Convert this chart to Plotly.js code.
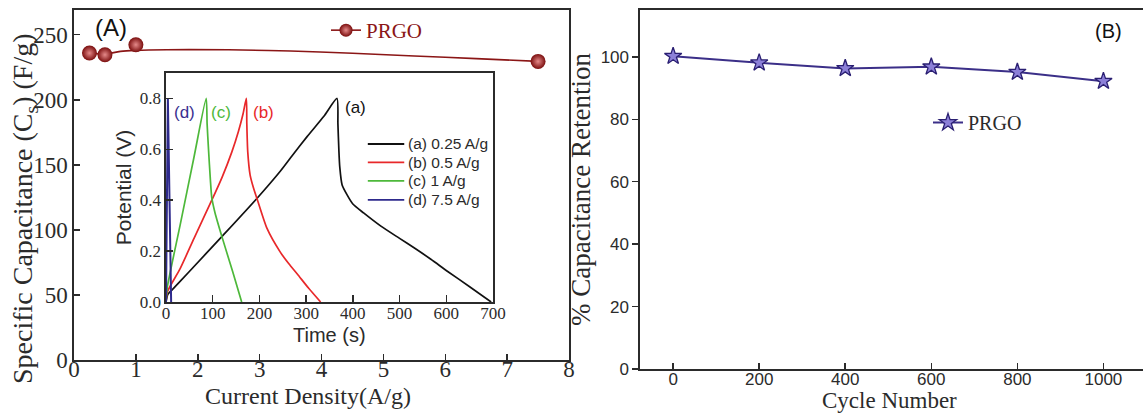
<!DOCTYPE html>
<html>
<head>
<meta charset="utf-8">
<script src="https://cdn.plot.ly/plotly-3.0.1.min.js"></script>
<style>
  html, body { margin: 0; padding: 0; background: #fff; }
  #chart { width: 1143px; height: 415px; }
</style>
</head>
<body>
<div id="chart"></div>
<script>
// ---- Panel A: specific capacitance vs current density ----
const densityAg = [0.25, 0.5, 1, 7.5];
const capacitanceFg = [235.9, 234.6, 242.3, 229.5];
// smooth trend line through the capacitance data
const trendX = [0.25, 0.5, 0.75, 1, 1.5, 2.5, 3.5, 4.5, 5.5, 6.5, 7.5];
const trendY = [235.9, 235.2, 237.2, 238.0, 238.5, 238.4, 237.5, 235.8, 233.7, 231.6, 229.5];

// ---- Inset: galvanostatic charge/discharge curves ----
const tA = [0, 4, 12, 50, 119.5, 195, 245, 270, 302, 338, 366,
            368, 370, 372, 377, 388, 400, 423, 460, 500, 531, 567, 603, 650, 696];
const vA = [0, 0.03, 0.046, 0.12, 0.257, 0.408, 0.515, 0.575, 0.65, 0.73, 0.8,
            0.7, 0.6, 0.53, 0.46, 0.42, 0.385, 0.35, 0.298, 0.25, 0.213, 0.168, 0.12, 0.06, 0];
const tB = [0, 3, 30, 60, 98, 120, 141, 155, 165, 172,
            173, 175, 180, 187, 195, 216, 245, 263, 281, 305, 331];
const vB = [0, 0.04, 0.13, 0.25, 0.40, 0.49, 0.59, 0.67, 0.74, 0.8,
            0.7, 0.59, 0.50, 0.45, 0.405, 0.29, 0.195, 0.15, 0.11, 0.055, 0];
const tC = [0, 3, 30, 60, 86, 88, 91, 95, 98, 105, 120, 143, 162];
const vC = [0, 0.06, 0.3, 0.57, 0.8, 0.7, 0.6, 0.48, 0.41, 0.35, 0.255, 0.118, 0];
const tD = [0, 4, 11];
const vD = [0, 0.8, 0];
const curveNames = ['(a) 0.25 A/g', '(b) 0.5 A/g', '(c) 1 A/g', '(d) 7.5 A/g'];
const curveColors = ['#111111', '#e8282a', '#4db83a', '#2e2a8c'];

// ---- Panel B: cycling stability ----
const cycles = [0, 200, 400, 600, 800, 1000];
const retention = [100.2, 98.1, 96.3, 96.8, 95.1, 92.2];

const W = 1143, H = 415;
const px = v => v / W;            // pixel -> paper x
const py = v => 1 - v / H;        // pixel (from top) -> paper y

const SERIF = 'Liberation Serif, Times New Roman, serif';
const SANS = 'Liberation Sans, Arial, sans-serif';
const INK = '#2b2b2b';
const RED = '#8b1616';
const PURPLE = '#3b2f88';

const gcdLine = color => ({ color: color, width: 1.7, shape: 'spline', smoothing: 0.6 });

const traces = [
  { x: trendX, y: trendY, xaxis: 'x', yaxis: 'y', mode: 'lines', line: { color: RED, width: 1.6, shape: 'spline' },
    showlegend: false, hoverinfo: 'skip' },
  { x: densityAg, y: capacitanceFg, xaxis: 'x', yaxis: 'y', mode: 'markers', showlegend: false,
    marker: { size: 15, color: '#7a0d0d', gradient: { type: 'radial', color: '#e58a8a' }, line: { width: 0 } } },
  { x: [null], y: [null], xaxis: 'x', yaxis: 'y', mode: 'lines+markers', name: 'PRGO', legend: 'legend',
    line: { color: RED, width: 1.6 },
    marker: { size: 13, color: '#7a0d0d', gradient: { type: 'radial', color: '#e58a8a' }, line: { width: 0 } } },

  { x: tA, y: vA, xaxis: 'x2', yaxis: 'y2', mode: 'lines', name: curveNames[0], showlegend: false,
    line: gcdLine(curveColors[0]) },
  { x: tB, y: vB, xaxis: 'x2', yaxis: 'y2', mode: 'lines', name: curveNames[1], showlegend: false,
    line: gcdLine(curveColors[1]) },
  { x: tC, y: vC, xaxis: 'x2', yaxis: 'y2', mode: 'lines', name: curveNames[2], showlegend: false,
    line: gcdLine(curveColors[2]) },
  { x: tD, y: vD, xaxis: 'x2', yaxis: 'y2', mode: 'lines', name: curveNames[3], showlegend: false,
    line: { color: curveColors[3], width: 2 } },

  { x: cycles, y: retention, xaxis: 'x3', yaxis: 'y3', mode: 'lines+markers', name: 'PRGO', legend: 'legend3',
    line: { color: PURPLE, width: 2 },
    marker: { symbol: 'star', size: 13, color: '#8c80d8', line: { color: '#2a1f72', width: 1.3 } } }
];

// compact key for the inset curves (rows placed in inset data units)
const keyRowsV = [0.621, 0.549, 0.476, 0.401];
const keyShapes = curveNames.map((n, i) => ({
  type: 'line', xref: 'x2', yref: 'y2', x0: 432, x1: 510, y0: keyRowsV[i], y1: keyRowsV[i],
  line: { color: curveColors[i], width: 1.8 }
}));
const keyLabels = curveNames.map((n, i) => ({
  text: n, xref: 'x2', yref: 'y2', x: 513, y: keyRowsV[i], xanchor: 'left', yanchor: 'middle',
  showarrow: false, font: { family: SANS, size: 15.5, color: INK }
}));

const axisBase = {
  showline: true, linecolor: INK, linewidth: 1.6, showgrid: false, zeroline: false,
  ticks: 'inside', tickcolor: INK, tickwidth: 1.5, ticklen: 6
};

const layout = {
  width: W, height: H,
  margin: { l: 0, r: 0, t: 0, b: 0 },
  paper_bgcolor: '#ffffff', plot_bgcolor: '#ffffff',
  font: { family: SERIF, color: INK },
  showlegend: true,
  xaxis: Object.assign({}, axisBase, {
    domain: [px(74), px(569)], anchor: 'y', range: [0, 8], dtick: 1, mirror: true,
    tickfont: { family: SERIF, size: 23, color: INK }, ticklabelstandoff: -12
  }),
  yaxis: Object.assign({}, axisBase, {
    domain: [py(360), py(10)], anchor: 'x', range: [0, 269], tickvals: [0, 50, 100, 150, 200, 250], mirror: true,
    tickfont: { family: SERIF, size: 23, color: INK }
  }),
  xaxis2: Object.assign({}, axisBase, {
    domain: [px(166), px(493)], anchor: 'y2', range: [0, 700], dtick: 100, mirror: true, ticklen: 7,
    tickfont: { family: SERIF, size: 17, color: INK }, ticklabelstandoff: -5
  }),
  yaxis2: Object.assign({}, axisBase, {
    domain: [py(302), py(73)], anchor: 'x2', range: [0, 0.9], tickvals: [0, 0.2, 0.4, 0.6, 0.8],
    tickformat: '.1f', mirror: true, ticklen: 7,
    tickfont: { family: SERIF, size: 17, color: INK },
    title: { text: 'Potential (V)', font: { family: SANS, size: 21, color: INK }, standoff: 2 }
  }),
  xaxis3: Object.assign({}, axisBase, {
    domain: [px(640), 1], anchor: 'y3', range: [-77, 1092], tickvals: [0, 200, 400, 600, 800, 1000], mirror: true,
    tickfont: { family: SANS, size: 17, color: INK }, ticklabelstandoff: -6
  }),
  yaxis3: Object.assign({}, axisBase, {
    domain: [py(369), py(10)], anchor: 'x3', range: [0, 115], tickvals: [0, 20, 40, 60, 80, 100],
    ticks: 'outside',
    tickfont: { family: SANS, size: 17, color: INK },
    title: { text: '% Capacitance Retention', font: { family: SERIF, size: 27, color: INK }, standoff: 2 }
  }),
  legend: {
    x: px(326), y: py(10), xanchor: 'left', yanchor: 'top', bgcolor: 'rgba(0,0,0,0)',
    font: { family: SERIF, size: 21, color: RED }
  },
  legend3: {
    x: px(928), y: py(103), xanchor: 'left', yanchor: 'top', bgcolor: 'rgba(0,0,0,0)',
    font: { family: SERIF, size: 20, color: INK }
  },
  shapes: keyShapes,
  annotations: [
    { text: 'Current Density(A/g)', xref: 'paper', yref: 'paper', x: px(308), y: py(396),
      xanchor: 'center', yanchor: 'middle', showarrow: false, font: { family: SERIF, size: 24, color: INK } },
    { text: 'Cycle Number', xref: 'paper', yref: 'paper', x: px(889), y: py(400),
      xanchor: 'center', yanchor: 'middle', showarrow: false, font: { family: SERIF, size: 23, color: INK } },
    { text: 'Specific Capacitance (C<sub>s</sub>) (F/g)', xref: 'paper', yref: 'paper', x: px(24), y: py(209),
      xanchor: 'center', yanchor: 'middle', textangle: -90, showarrow: false,
      font: { family: SERIF, size: 28, color: INK } },
    { text: 'Time (s)', xref: 'paper', yref: 'paper', x: px(329), y: py(335),
      xanchor: 'center', yanchor: 'middle', showarrow: false, font: { family: SANS, size: 20, color: INK } },
    { text: '(A)', xref: 'paper', yref: 'paper', x: px(111), y: py(28), xanchor: 'center', yanchor: 'middle',
      showarrow: false, font: { family: SANS, size: 24, color: '#111' } },
    { text: '(B)', xref: 'paper', yref: 'paper', x: px(1108), y: py(31), xanchor: 'center', yanchor: 'middle',
      showarrow: false, font: { family: SANS, size: 20, color: '#111' } },
    { text: '(a)', xref: 'x2', yref: 'y2', x: 378, y: 0.765, xanchor: 'left', yanchor: 'middle', showarrow: false,
      font: { family: SANS, size: 17, color: '#111' } },
    { text: '(b)', xref: 'x2', yref: 'y2', x: 183, y: 0.745, xanchor: 'left', yanchor: 'middle', showarrow: false,
      font: { family: SANS, size: 17, color: '#e8282a' } },
    { text: '(c)', xref: 'x2', yref: 'y2', x: 91, y: 0.745, xanchor: 'left', yanchor: 'middle', showarrow: false,
      font: { family: SANS, size: 17, color: '#4db83a' } },
    { text: '(d)', xref: 'x2', yref: 'y2', x: 13, y: 0.745, xanchor: 'left', yanchor: 'middle', showarrow: false,
      font: { family: SANS, size: 17, color: '#3a3090' } }
  ].concat(keyLabels)
};

Plotly.newPlot('chart', traces, layout, { displayModeBar: false, staticPlot: true });
</script>
</body>
</html>
